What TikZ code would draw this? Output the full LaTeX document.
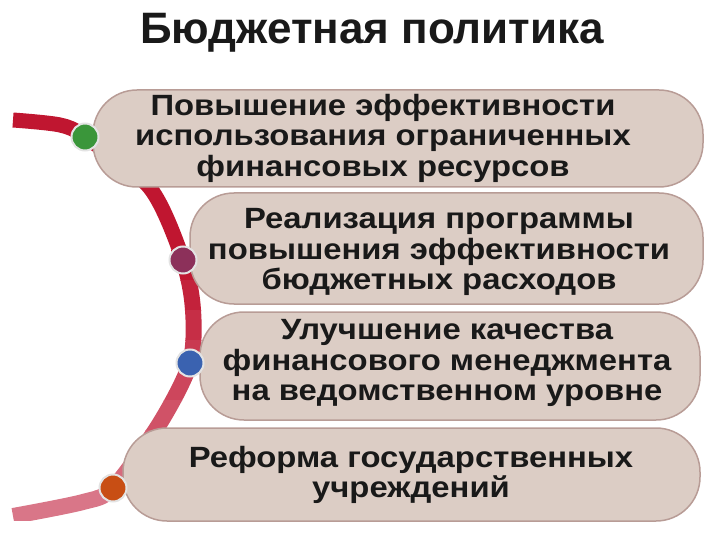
\documentclass[tikz,border=0pt]{standalone}
\usepackage{fontspec}
\setmainfont{Liberation Sans}
\newfontfamily\boxfont{Liberation Sans}[FakeStretch=1.12]
\usepackage{tikz}
\usepackage{xcolor}

\definecolor{boxfill}{RGB}{220,205,197}
\definecolor{boxline}{RGB}{184,156,150}
\definecolor{bandtop}{RGB}{192,22,48}
\definecolor{bandbot}{RGB}{218,122,140}
\definecolor{dotgreen}{RGB}{58,150,58}
\definecolor{dotpurple}{RGB}{140,48,90}
\definecolor{dotblue}{RGB}{58,98,176}
\definecolor{dotorange}{RGB}{200,78,20}

\begin{document}
\begin{tikzpicture}[x=1pt,y=-1pt,
  pill/.style={draw=boxline, line width=1.5pt, fill=boxfill, rounded corners=44pt, inner sep=0pt},
  txt/.style={align=center, font=\boxfont\bfseries\fontsize{29.3}{30.5}\selectfont, text=black!90},
  dot/.style={circle, minimum size=27pt, inner sep=0pt, draw=white!78!gray, line width=2pt}]
\useasboundingbox (0,0) rectangle (720,540);

\node[font=\bfseries\fontsize{44}{48}\selectfont, text=black!90] (title) at (372,33) {Бюджетная политика};

% red band, lighter towards the bottom
\def\bandpath{plot[smooth] coordinates {(13,120) (60,125) (85,137) (150,188) (183,260) (193,310) (190,363) (160,423) (113,488) (83,502) (13,516)}}
\begin{scope}
\clip (0,0) rectangle (300,250);
\draw[line width=15pt, bandtop] \bandpath;
\end{scope}
\foreach \k [evaluate=\k as \p using {int(\k*12)}] in {0,...,8} {
  \begin{scope}
  \clip (0,{250+\k*30}) rectangle (300,{280.5+\k*30});
  \draw[line width=16pt, bandbot!\p!bandtop] \bandpath;
  \end{scope}
}

\node[pill, minimum width=610pt, minimum height=97pt] (b1) at (398,138.5) {};
\node[pill, minimum width=513pt, minimum height=111pt] (b2) at (446.5,248.5) {};
\node[pill, minimum width=500pt, minimum height=108pt] (b3) at (450,366) {};
\node[pill, minimum width=577pt, minimum height=93pt] (b4) at (411.5,474.5) {};

\node[txt] (t1) at (383,138) {Повышение эффективности\\использования ограниченных\\финансовых ресурсов};
\node[txt] (t2) at (439,252) {Реализация программы\\повышения эффективности\\бюджетных расходов};
\node[txt] (t3) at (447,363) {Улучшение качества\\финансового менеджмента\\на ведомственном уровне};
\node[txt] (t4) at (411,475) {Реформа государственных\\учреждений};

\node[dot, fill=dotgreen] (dot1) at (85,137) {};
\node[dot, fill=dotpurple] (dot2) at (183,260) {};
\node[dot, fill=dotblue] (dot3) at (190,363) {};
\node[dot, fill=dotorange] (dot4) at (113,488) {};

\end{tikzpicture}
\end{document}
